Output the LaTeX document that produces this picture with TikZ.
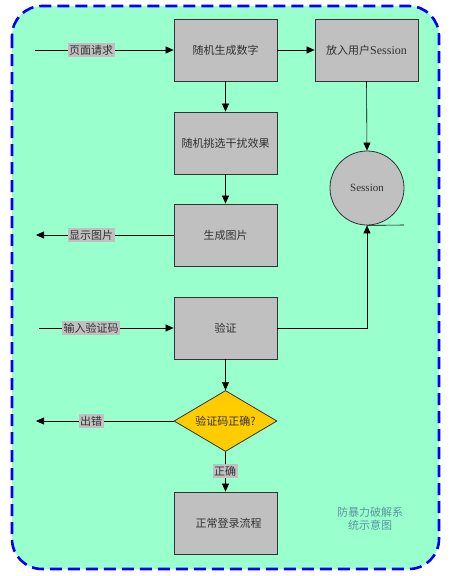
\documentclass[tikz,border=0pt]{standalone}
\usepackage{fontspec}
\setmainfont{Liberation Serif}
\newfontfamily\cjk{Noto Sans CJK SC}
\usetikzlibrary{arrows.meta,shapes.geometric}
\definecolor{mint}{RGB}{153,255,204}
\definecolor{boxgray}{RGB}{192,192,192}
\definecolor{gold}{RGB}{255,204,0}
\definecolor{titlec}{RGB}{90,150,160}
\definecolor{txt}{RGB}{50,50,50}
\tikzset{
  procbox/.style={draw=black!80, line width=0.8pt, fill=boxgray, minimum width=103pt, minimum height=62pt, inner sep=0pt, text=txt, font=\fontsize{11}{13}\selectfont\cjk},
  lbl/.style={fill=boxgray, inner sep=1.5pt, text=txt, font=\fontsize{11}{13}\selectfont\cjk},
  conn/.style={line width=0.6pt, draw=black},
  arr/.style={conn, -{Triangle[length=8pt,width=7pt]}},
}
\begin{document}
\begin{tikzpicture}[x=1pt,y=-1pt]
\useasboundingbox (0,0) rectangle (455,576);
\draw[blue, line width=2.6pt, dash pattern=on 12pt off 6pt, fill=mint, rounded corners=30pt] (12,6) rectangle (439,569);

\node[procbox] (gen) at (225.5,50) {随机生成数字};
\node[procbox] (put) at (366.5,50) {放入用户{\rmfamily\fontsize{12}{14}\selectfont Session}};
\node[procbox] (pick) at (225.5,143) {随机挑选干扰效果};
\node[procbox] (img) at (225.5,235) {生成图片};
\node[procbox] (ver) at (225.5,328) {验证};
\node[procbox] (ok) at (225.5,523) {\hspace*{6pt}正常登录流程};
\node[shape=diamond, draw=black!80, line width=0.8pt, fill=gold, aspect=1.7, minimum width=103pt, minimum height=61pt, inner sep=0pt, text=txt, font=\fontsize{11}{13}\selectfont\cjk] (dec) at (225.5,421) {验证码正确?};
\node[circle, draw=black!80, line width=0.8pt, fill=boxgray, minimum size=74pt, inner sep=0pt, text=txt, font=\fontsize{11}{13}\selectfont] (ses) at (367,188) {Session};

\coordinate (inL) at (35,50);
\coordinate (outImg) at (36,235);
\coordinate (inV) at (39,328);
\coordinate (outErr) at (36,421);
\coordinate (corner) at (367,328);
\coordinate (tanEnd) at (404,225);

\draw[arr] (inL) -- (gen.west);
\node[lbl] at (91,50) {页面请求};
\draw[arr] (gen.east) -- (put.west);
\draw[arr] (put.south) -- (ses.north);
\draw[arr] (gen.south) -- (pick.north);
\draw[arr] (pick.south) -- (img.north);
\draw[arr] (img.west) -- (outImg);
\node[lbl] at (91,235) {显示图片};
\draw[arr] (inV) -- (ver.west);
\node[lbl] at (91,328) {输入验证码};
\draw[arr] (ver.east) -- (corner) -- (ses.south);
\draw[conn] (ses.south) -- (tanEnd);
\draw[arr] (ver.south) -- (dec.north);
\draw[arr] (dec.west) -- (outErr);
\node[lbl] at (91,421) {出错};
\draw[arr] (dec.south) -- (ok.north);
\node[lbl] at (225,471) {正确};

\node[align=center, text=titlec, font=\fontsize{11}{13}\selectfont\cjk] (title) at (370,519) {防暴力破解系\\统示意图};
\end{tikzpicture}
\end{document}
